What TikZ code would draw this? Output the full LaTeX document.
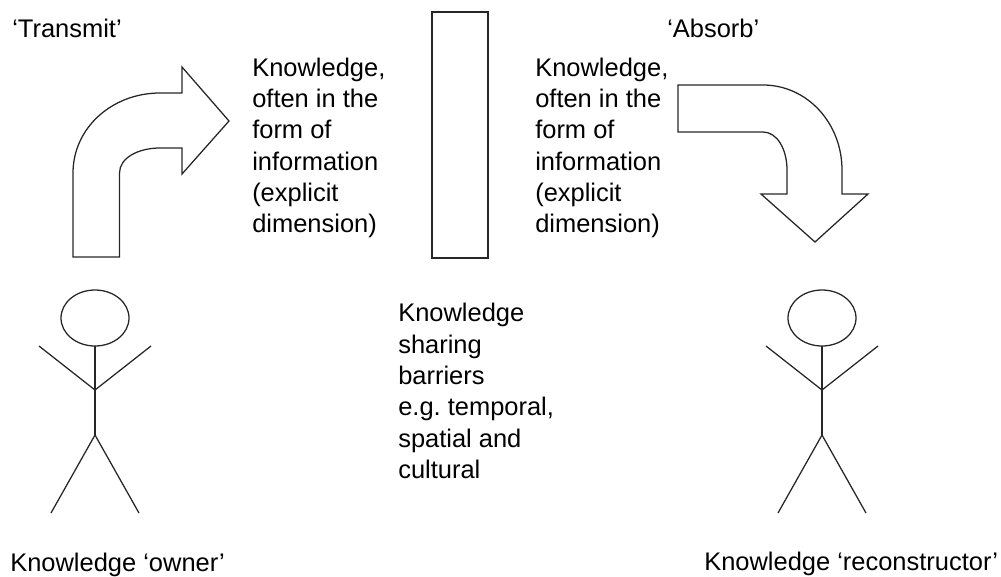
\documentclass[tikz,border=0pt]{standalone}
\usepackage{fontspec}
\setmainfont{Liberation Sans}
\frenchspacing
\tikzset{
	lbl/.style={inner sep=0pt,anchor=north west,align=left,font=\fontsize{19.1}{23.5}\selectfont},
	shp/.style={draw=black!85,line width=.95pt,line join=miter}
}
\begin{document}
\begin{tikzpicture}[x=.75pt,y=-.75pt]
	\useasboundingbox (0,0) rectangle (1001,576);
	\def\kn{Knowledge,\\often in the\\form of\\information\\(explicit\\dimension)}
	% left arrow
	\draw[shp] (73,257)--(119.5,257)--(119.5,173)
	.. controls (119.5,158) and (138,148) .. (160,148)
	--(182,148)--(182,174)--(229,121)--(182,67)--(182,93)--(160,93)
	.. controls (112,93) and (73,128) .. (73,173)--cycle;
	% right arrow
	\draw[shp] (678,85)--(763,85)
	.. controls (807,85) and (842,123) .. (842,170)
	--(842,194)--(868,194)--(815,242)--(761,194)--(787,194)--(787,170)
	.. controls (787,149) and (777,132) .. (763,132)
	--(678,132)--cycle;
	% barrier
	\draw[shp] (432,12) rectangle (488,258);
	% people
	\foreach \x in {95,822}{
		\draw[shp] (\x,318) ellipse[x radius=34,y radius=28];
		\draw[shp] (\x,346)--(\x,435);
		\draw[shp] (\x-56,346)--(\x,390)--(\x+56,346);
		\draw[shp] (\x-44,513)--(\x,435)--(\x+44,513);
	}
	% text
	\node[lbl] (transmit) at (12,18.5) {‘Transmit’};
	\node[lbl] (absorb) at (667,18.5) {‘Absorb’};
	\node[lbl] (knleft) at (252,57.5) {\kn};
	\node[lbl] (knright) at (535,57.5) {\kn};
	\node[lbl] (barriers) at (398,303) {Knowledge\\sharing\\barriers\\e.g. temporal,\\spatial and\\cultural};
	\node[lbl] (owner) at (10,553) {Knowledge ‘owner’};
	\node[lbl] (recon) at (704,552) {Knowledge ‘reconstructor’};
\end{tikzpicture}
\end{document}
